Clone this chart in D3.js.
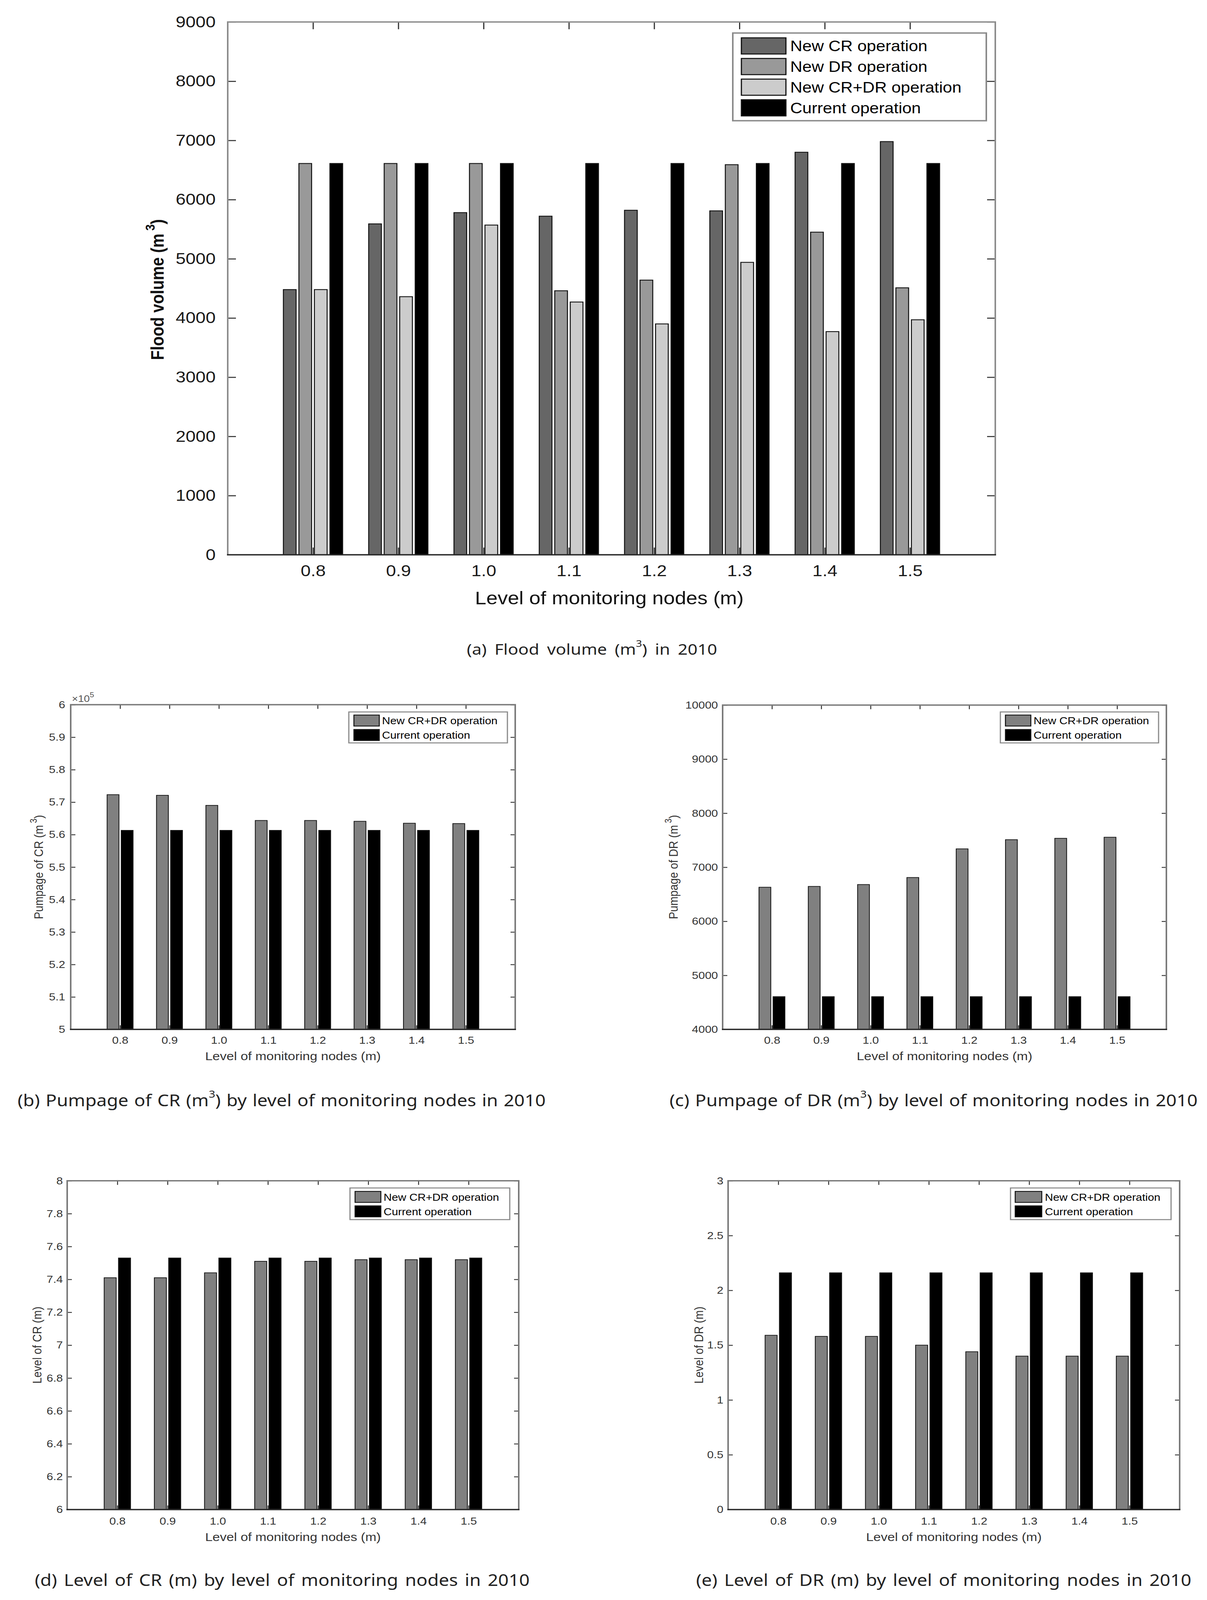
<!DOCTYPE html>
<html><head><meta charset="utf-8">
<script src="https://cdn.jsdelivr.net/npm/d3@7"></script>
<style>html,body{margin:0;padding:0;background:#fff;overflow:hidden}svg{display:block;width:100vw;height:100vh}</style>
</head><body>
<svg id="c" viewBox="0 0 3090 4652" preserveAspectRatio="none" xmlns="http://www.w3.org/2000/svg"></svg>
<script>
// ---------------- data ----------------
const levels = ["0.8","0.9","1.0","1.1","1.2","1.3","1.4","1.5"];

const floodNewCR   = [4480,5590,5780,5720,5820,5810,6800,6980];
const floodNewDR   = [6610,6610,6610,4460,4640,6590,5450,4510];
const floodNewCRDR = [4480,4360,5570,4270,3900,4940,3770,3970];
const floodCurrent = [6610,6610,6610,6610,6610,6610,6610,6610];

const pumpCRNew     = [572300,572100,569000,564350,564350,564100,563500,563400];
const pumpCRCurrent = [561300,561300,561300,561300,561300,561300,561300,561300];

const pumpDRNew     = [6630,6645,6680,6810,7340,7510,7535,7555];
const pumpDRCurrent = [4606,4606,4606,4606,4606,4606,4606,4606];

const levelCRNew     = [7.41,7.41,7.44,7.51,7.51,7.52,7.52,7.52];
const levelCRCurrent = [7.53,7.53,7.53,7.53,7.53,7.53,7.53,7.53];

const levelDRNew     = [1.59,1.58,1.58,1.50,1.44,1.40,1.40,1.40];
const levelDRCurrent = [2.16,2.16,2.16,2.16,2.16,2.16,2.16,2.16];

const floodTicks   = [0,1000,2000,3000,4000,5000,6000,7000,8000,9000];
const pumpCRTicks  = [500000,510000,520000,530000,540000,550000,560000,570000,580000,590000,600000];
const pumpDRTicks  = [4000,5000,6000,7000,8000,9000,10000];
const levelCRTicks = [6,6.2,6.4,6.6,6.8,7,7.2,7.4,7.6,7.8,8];
const levelDRTicks = [0,0.5,1,1.5,2,2.5,3];

const names4 = ["New CR operation","New DR operation","New CR+DR operation","Current operation"];
const names2 = ["New CR+DR operation","Current operation"];

// ---------------- drawing ----------------
const svg = d3.select("#c");
svg.append("rect").attr("width",3090).attr("height",4652).attr("fill","#fff");
const SANS = "'Liberation Sans', Arial, Helvetica, sans-serif";
const CAP = "'Noto Sans', 'Open Sans', sans-serif";

function drawPanel(p) {
  const g = svg.append("g");
  const x = d3.scaleLinear().domain([0, levels.length + 1]).range([p.left, p.right]);
  const y0 = p.ticks[0], y1 = p.ticks[p.ticks.length - 1];
  const y = d3.scaleLinear().domain([y0, y1]).range([p.bottom, p.top]);
  const n = p.series.length;
  const gw = Math.min(0.8, n / (n + 1.5));
  const bw = p.bwf * gw / n;
  const idx = levels.map((d, i) => i + 1);

  const tickStyle = sel => {
    sel.select(".domain").remove();
    sel.selectAll(".tick line").attr("stroke", "#333").attr("stroke-width", p.tickW);
    sel.selectAll(".tick text").attr("font-family", SANS).attr("font-size", p.tickFont)
      .attr("fill", p.textColor);
  };
  g.append("g").attr("transform", `translate(${p.left},0)`)
    .call(d3.axisLeft(y).tickValues(p.ticks).tickSize(-p.tick).tickPadding(p.ypad).tickFormat(p.fmt))
    .call(tickStyle);
  g.append("g").attr("transform", `translate(${p.right},0)`)
    .call(d3.axisRight(y).tickValues(p.ticks).tickSize(-p.tick).tickFormat(""))
    .call(tickStyle);
  g.append("g").attr("transform", `translate(0,${p.top})`)
    .call(d3.axisTop(x).tickValues(idx).tickSize(-p.tick).tickFormat(""))
    .call(tickStyle);
  g.append("g").attr("transform", `translate(0,${p.bottom})`)
    .call(d3.axisBottom(x).tickValues(idx).tickSize(-p.tick).tickPadding(p.xpad).tickFormat(i => levels[i - 1]))
    .call(tickStyle);

  p.series.forEach((s, k) => {
    const off = (k - (n - 1) / 2) * gw / n;
    g.append("g").selectAll("rect").data(s.values).join("rect")
      .attr("x", (d, i) => x(i + 1 + off - bw / 2))
      .attr("width", x(bw) - x(0))
      .attr("y", d => y(d))
      .attr("height", d => y(y0) - y(d))
      .attr("fill", s.color)
      .attr("stroke", "#111")
      .attr("stroke-width", p.barStroke);
  });

  g.append("path")
    .attr("d", `M${p.left},${p.bottom}V${p.top}H${p.right}V${p.bottom}`)
    .attr("fill", "none").attr("stroke", p.frameColor).attr("stroke-width", p.frameW);
  g.append("line").attr("x1", p.left - p.frameW / 2).attr("x2", p.right + p.frameW / 2)
    .attr("y1", p.bottom).attr("y2", p.bottom)
    .attr("stroke", "#2a2a2a").attr("stroke-width", p.frameW);

  const L = p.legend;
  const lg = g.append("g");
  lg.append("rect").attr("x", L.x).attr("y", L.y).attr("width", L.w).attr("height", L.h)
    .attr("fill", "#fff").attr("stroke", "#8a8a8a").attr("stroke-width", L.bw);
  p.series.forEach((s, k) => {
    const yy = L.y + L.py0 + k * L.pitch;
    lg.append("rect").attr("x", L.x + L.px).attr("y", yy).attr("width", L.pw).attr("height", L.ph)
      .attr("fill", s.color).attr("stroke", "#111").attr("stroke-width", L.pstroke);
    lg.append("text").attr("x", L.x + L.tx).attr("y", yy + L.ph / 2 + 1)
      .attr("dominant-baseline", "central")
      .attr("font-family", SANS).attr("font-size", L.font).attr("fill", "#000")
      .text(s.name);
  });

  g.append("text").attr("x", p.xt.x).attr("y", p.xt.y).attr("text-anchor", "middle")
    .attr("dominant-baseline", "central")
    .attr("font-family", SANS).attr("font-size", p.xt.font).attr("fill", p.titleColor)
    .text("Level of monitoring nodes (m)");
  const yt = g.append("text")
    .attr("transform", `translate(${p.yt.x},${p.yt.y}) rotate(-90)`)
    .attr("text-anchor", "middle").attr("dominant-baseline", "central")
    .attr("font-family", SANS).attr("font-size", p.yt.font).attr("fill", p.titleColor)
    .attr("font-weight", p.yt.weight || "normal");
  yt.append("tspan").text(p.yt.text);
  if (p.yt.sup) {
    yt.append("tspan").attr("dx", p.yt.font * 0.18).attr("dy", -p.yt.font * 0.4)
      .attr("font-size", p.yt.font * 0.72).text(p.yt.sup);
    yt.append("tspan").attr("dy", p.yt.font * 0.4).text(")");
  }
  return {x, y, g};
}

function caption(c) {
  const t = svg.append("text").attr("x", c.x0).attr("y", c.y)
    .attr("dominant-baseline", "central")
    .attr("font-family", CAP).attr("font-size", c.font).attr("fill", "#222");
  t.append("tspan").text(c.pre);
  if (c.sup) {
    t.append("tspan").attr("dy", -c.font * 0.38).attr("font-size", c.font * 0.62).text(c.sup);
    t.append("tspan").attr("dy", c.font * 0.38).text(c.post);
  }
  const w = t.node().getComputedTextLength();
  const spaces = (c.pre + (c.post || "")).split(" ").length - 1;
  t.attr("word-spacing", Math.max(0, (c.x1 - c.x0 - w) / spaces));
}

// ---- panel (a) ----
drawPanel({
  left: 583, right: 2548, top: 64, bottom: 1613,
  ticks: floodTicks, fmt: d => String(d),
  series: [
    {name: names4[0], values: floodNewCR, color: "#666666"},
    {name: names4[1], values: floodNewDR, color: "#999999"},
    {name: names4[2], values: floodNewCRDR, color: "#cccccc"},
    {name: names4[3], values: floodCurrent, color: "#000000"}
  ],
  bwf: 0.82, barStroke: 2.5, tick: 21, tickW: 3, tickFont: 46, ypad: 31, xpad: 30,
  textColor: "#1a1a1a", titleColor: "#111", frameColor: "#8c8c8c", frameW: 4,
  legend: {x: 1876, y: 96, w: 649, h: 255, bw: 4, px: 22, pw: 114, ph: 47, py0: 14, pitch: 60,
           pstroke: 3, tx: 147, font: 43},
  xt: {x: 1560, y: 1739, font: 52},
  yt: {x: 403, y: 842, font: 46, text: "Flood volume (m", sup: "3", weight: "bold"}
});

// ---- panel (b) ----
drawPanel({
  left: 181, right: 1319, top: 2049, bottom: 2993,
  ticks: pumpCRTicks, fmt: d => String(+(d / 1e5).toFixed(2)),
  series: [
    {name: names2[0], values: pumpCRNew, color: "#808080"},
    {name: names2[1], values: pumpCRCurrent, color: "#000000"}
  ],
  bwf: 0.84, barStroke: 2, tick: 12, tickW: 2.5, tickFont: 30, ypad: 14, xpad: 20,
  textColor: "#333", titleColor: "#333", frameColor: "#7a7a7a", frameW: 4,
  legend: {x: 893, y: 2070, w: 406, h: 90, bw: 3, px: 13, pw: 65, ph: 32, py0: 9, pitch: 42,
           pstroke: 2.5, tx: 85, font: 29},
  xt: {x: 750, y: 3071, font: 34},
  yt: {x: 98, y: 2521, font: 32, text: "Pumpage of CR (m", sup: "3"}
});
const mult = svg.append("text").attr("x", 184).attr("y", 2041)
  .attr("font-family", SANS).attr("font-size", 27).attr("fill", "#555");
mult.append("tspan").text("\u00d710");
mult.append("tspan").attr("dy", -14).attr("font-size", 20).text("5");

// ---- panel (c) ----
drawPanel({
  left: 1850, right: 2986, top: 2050, bottom: 2993,
  ticks: pumpDRTicks, fmt: d => String(d),
  series: [
    {name: names2[0], values: pumpDRNew, color: "#808080"},
    {name: names2[1], values: pumpDRCurrent, color: "#000000"}
  ],
  bwf: 0.84, barStroke: 2, tick: 12, tickW: 2.5, tickFont: 30, ypad: 12, xpad: 20,
  textColor: "#333", titleColor: "#333", frameColor: "#7a7a7a", frameW: 4,
  legend: {x: 2561, y: 2070, w: 405, h: 90, bw: 3, px: 13, pw: 65, ph: 32, py0: 9, pitch: 42,
           pstroke: 2.5, tx: 85, font: 29},
  xt: {x: 2418, y: 3071, font: 34},
  yt: {x: 1723, y: 2521, font: 32, text: "Pumpage of DR (m", sup: "3"}
});

// ---- panel (d) ----
drawPanel({
  left: 172, right: 1328, top: 3433, bottom: 4389,
  ticks: levelCRTicks, fmt: d => String(+d.toFixed(2)),
  series: [
    {name: names2[0], values: levelCRNew, color: "#808080"},
    {name: names2[1], values: levelCRCurrent, color: "#000000"}
  ],
  bwf: 0.84, barStroke: 2, tick: 12, tickW: 2.5, tickFont: 30, ypad: 11, xpad: 22,
  textColor: "#333", titleColor: "#333", frameColor: "#7a7a7a", frameW: 4,
  legend: {x: 896, y: 3454, w: 409, h: 92, bw: 3, px: 13, pw: 66, ph: 32, py0: 10, pitch: 42,
           pstroke: 2.5, tx: 86, font: 29},
  xt: {x: 750, y: 4469, font: 34},
  yt: {x: 94, y: 3911, font: 32, text: "Level of CR (m)"}
});

// ---- panel (e) ----
drawPanel({
  left: 1864, right: 3020, top: 3433, bottom: 4389,
  ticks: levelDRTicks, fmt: d => String(+d.toFixed(2)),
  series: [
    {name: names2[0], values: levelDRNew, color: "#808080"},
    {name: names2[1], values: levelDRCurrent, color: "#000000"}
  ],
  bwf: 0.84, barStroke: 2, tick: 12, tickW: 2.5, tickFont: 30, ypad: 12, xpad: 22,
  textColor: "#333", titleColor: "#333", frameColor: "#7a7a7a", frameW: 4,
  legend: {x: 2587, y: 3454, w: 411, h: 92, bw: 3, px: 12, pw: 68, ph: 32, py0: 10, pitch: 42,
           pstroke: 2.5, tx: 88, font: 29},
  xt: {x: 2442, y: 4469, font: 34},
  yt: {x: 1788, y: 3911, font: 32, text: "Level of DR (m)"}
});

// ---- captions ----
caption({x0: 1195, x1: 1836, y: 1887, font: 44, pre: "(a) Flood volume (m", sup: "3", post: ") in 2010"});
caption({x0: 45, x1: 1397, y: 3198, font: 47, pre: "(b) Pumpage of CR (m", sup: "3", post: ") by level of monitoring nodes in 2010"});
caption({x0: 1714, x1: 3066, y: 3198, font: 47, pre: "(c) Pumpage of DR (m", sup: "3", post: ") by level of monitoring nodes in 2010"});
caption({x0: 89, x1: 1356, y: 4593, font: 47, pre: "(d) Level of CR (m) by level of monitoring nodes in 2010"});
caption({x0: 1782, x1: 3050, y: 4593, font: 47, pre: "(e) Level of DR (m) by level of monitoring nodes in 2010"});
</script>
</body></html>
